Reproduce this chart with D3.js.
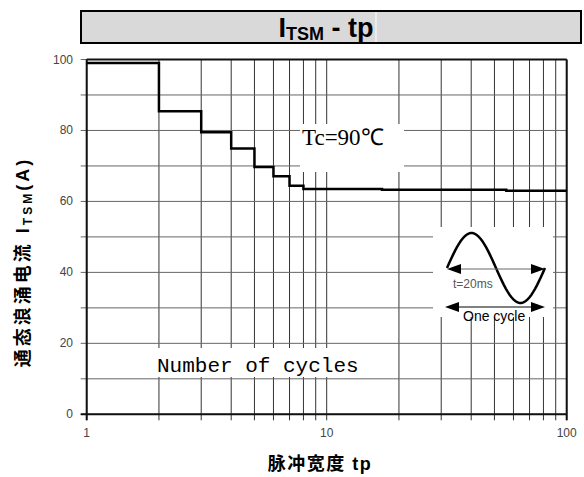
<!DOCTYPE html>
<html>
<head>
<meta charset="utf-8">
<script src="https://cdn.jsdelivr.net/npm/d3@7/dist/d3.min.js"></script>
<style>
  body { margin: 0; background: #fff; }
  svg { display: block; }
  text { font-family: "Liberation Sans", Arial, "Noto Sans CJK SC", sans-serif; }
</style>
</head>
<body>
<div id="chart"></div>
<script>
// surge current vs number of cycles
var cycles = [1, 2, 3, 4, 5, 6, 7, 8, 17, 56, 100];
var itsm = [99, 85.4, 79.5, 74.9, 69.7, 67.1, 64.4, 63.5, 63.3, 63.0, 63.0];

var xTickLabels = [1, 10, 100];
var yTickLabels = [0, 20, 40, 60, 80, 100];

var width = 584, height = 477;
var plotLeft = 86.7, plotRight = 566.7, plotTop = 59.5, plotBottom = 414.3;

var svg = d3.select("#chart").append("svg")
  .attr("width", width)
  .attr("height", height);

var x = d3.scaleLog().domain([1, 100]).range([plotLeft, plotRight]);
var y = d3.scaleLinear().domain([0, 100]).range([plotBottom, plotTop]);

// title box
svg.append("rect")
  .attr("x", 81).attr("y", 11)
  .attr("width", 500).attr("height", 32)
  .style("fill", "#d9d9d9")
  .style("stroke", "#000")
  .style("stroke-width", 2);
svg.append("line")
  .attr("x1", 376).attr("x2", 376).attr("y1", 12).attr("y2", 42)
  .style("stroke", "#fff").style("stroke-width", 1);
var title = svg.append("text")
  .attr("x", 326).attr("y", 37)
  .attr("text-anchor", "middle")
  .style("font-size", "27px").style("font-weight", "bold");
title.append("tspan").text("I");
title.append("tspan").attr("dy", 3).style("font-size", "18px").text("TSM");
title.append("tspan").attr("dy", -3).text(" - tp");

// grid
var grid = svg.append("g");
grid.selectAll(".vgrid")
  .data(x.ticks())
  .enter().append("line")
  .attr("class", "vgrid")
  .attr("x1", function(d) { return x(d); })
  .attr("x2", function(d) { return x(d); })
  .attr("y1", plotTop)
  .attr("y2", plotBottom + 6)
  .style("stroke", "#333")
  .style("stroke-width", 1);
grid.selectAll(".hgrid")
  .data(y.ticks(10))
  .enter().append("line")
  .attr("class", "hgrid")
  .attr("x1", plotLeft - 6)
  .attr("x2", plotRight)
  .attr("y1", function(d) { return y(d); })
  .attr("y2", function(d) { return y(d); })
  .style("stroke", "#666")
  .style("stroke-width", 1);

// frame
svg.append("line").attr("x1", plotLeft).attr("x2", plotRight).attr("y1", plotTop).attr("y2", plotTop)
  .style("stroke", "#111").style("stroke-width", 2);
svg.append("line").attr("x1", plotRight).attr("x2", plotRight).attr("y1", plotTop).attr("y2", plotBottom + 6)
  .style("stroke", "#111").style("stroke-width", 2);
svg.append("line").attr("x1", plotLeft).attr("x2", plotLeft).attr("y1", plotTop).attr("y2", plotBottom + 6)
  .style("stroke", "#111").style("stroke-width", 2);
svg.append("line").attr("x1", plotLeft - 6).attr("x2", plotRight).attr("y1", plotBottom).attr("y2", plotBottom)
  .style("stroke", "#111").style("stroke-width", 2);

// white patches behind the annotations
var patches = [
  [300, 124, 104, 48],
  [150, 348, 222, 29],
  [433, 227, 120, 90]
];
svg.selectAll(".patch")
  .data(patches)
  .enter().append("rect")
  .attr("x", function(d) { return d[0]; })
  .attr("y", function(d) { return d[1]; })
  .attr("width", function(d) { return d[2]; })
  .attr("height", function(d) { return d[3]; })
  .style("fill", "#fff");

// step curve
var line = d3.line()
  .x(function(d, i) { return x(cycles[i]); })
  .y(function(d) { return y(d); })
  .curve(d3.curveStepAfter);
svg.append("path")
  .datum(itsm)
  .attr("d", line)
  .style("fill", "none")
  .style("stroke", "#000")
  .style("stroke-width", 2.5);

// tick labels
svg.selectAll(".ylab")
  .data(yTickLabels)
  .enter().append("text")
  .attr("x", 73)
  .attr("y", function(d) { return y(d) + 4; })
  .attr("text-anchor", "end")
  .style("font-size", "12px")
  .style("fill", "#444")
  .text(function(d) { return d; });
svg.selectAll(".xlab")
  .data(xTickLabels)
  .enter().append("text")
  .attr("x", function(d) { return x(d); })
  .attr("y", 437)
  .attr("text-anchor", "middle")
  .style("font-size", "12px")
  .style("fill", "#444")
  .text(function(d) { return d; });

// axis titles
svg.append("text")
  .attr("x", 320).attr("y", 470)
  .attr("text-anchor", "middle")
  .style("font-size", "18px").style("font-weight", "bold")
  .style("letter-spacing", "1.5px")
  .text("脉冲宽度 tp");
var ylab = svg.append("text")
  .attr("transform", "translate(29,262) rotate(-90)")
  .attr("text-anchor", "middle")
  .style("font-size", "18px").style("font-weight", "bold")
  .style("letter-spacing", "3px");
ylab.append("tspan").text("通态浪涌电流 I");
ylab.append("tspan").attr("dy", 3).style("font-size", "12px").text("TSM");
ylab.append("tspan").attr("dy", -3).text("(A)");

// annotations
svg.append("text")
  .attr("x", 302).attr("y", 145)
  .style("font-family", "'Liberation Serif', 'Times New Roman', serif")
  .style("font-size", "23px")
  .text("Tc=90℃");
svg.append("text")
  .attr("x", 157).attr("y", 372)
  .style("font-family", "'Liberation Mono', 'Courier New', monospace")
  .style("font-size", "21px")
  .text("Number of cycles");

// one-cycle waveform icon
var icon = svg.append("g");
var wx0 = 447, wx1 = 545, wmid = 268, wamp = 35;
var wave = d3.range(0, 1.0001, 0.02).map(function(t) {
  return [wx0 + t * (wx1 - wx0), wmid - wamp * Math.sin(2 * Math.PI * t)];
});
icon.append("path")
  .attr("d", d3.line()(wave))
  .style("fill", "none")
  .style("stroke", "#000")
  .style("stroke-width", 2.5);

function arrow(g, x1, x2, yy, color) {
  g.append("line")
    .attr("x1", x1 + 10).attr("x2", x2 - 10).attr("y1", yy).attr("y2", yy)
    .style("stroke", color).style("stroke-width", 1);
  g.append("path")
    .attr("d", "M" + x1 + "," + yy + "L" + (x1 + 14) + "," + (yy - 5) + "L" + (x1 + 14) + "," + (yy + 5) + "Z")
    .style("fill", "#000");
  g.append("path")
    .attr("d", "M" + x2 + "," + yy + "L" + (x2 - 14) + "," + (yy - 5) + "L" + (x2 - 14) + "," + (yy + 5) + "Z")
    .style("fill", "#000");
}
arrow(icon, 447, 545, 269, "#666");
arrow(icon, 445, 545, 307, "#000");

icon.append("text")
  .attr("x", 453).attr("y", 288)
  .style("font-size", "12px").style("fill", "#555")
  .text("t=20ms");
icon.append("text")
  .attr("x", 463).attr("y", 321)
  .style("font-size", "14px").style("fill", "#000")
  .text("One cycle");
</script>
</body>
</html>
